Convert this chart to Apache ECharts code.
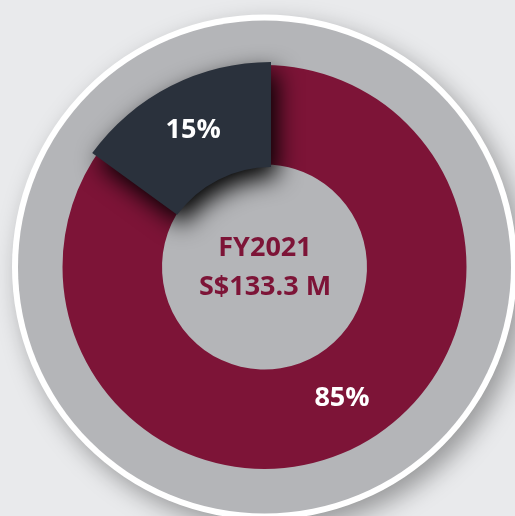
<!DOCTYPE html>
<html>
<head>
<meta charset="utf-8">
<script src="https://cdn.jsdelivr.net/npm/echarts@6/dist/echarts.min.js"></script>
<style>
  html, body { margin: 0; padding: 0; background: #e9eaec; }
  #chart { width: 515px; height: 516px; }
</style>
</head>
<body>
<div id="chart"></div>
<script>
// revenue split, FY2021
const segments = ['Segment A', 'Segment B']
const shares = [85, 15]
const segColors = ['#7d1437', '#2a313c']
const centerLines = ['FY2021', 'S$133.3 M']

const font = '"Open Sans", "Noto Sans", sans-serif'
const chart = echarts.init(document.getElementById('chart'))

const baseData = segments.map((name, i) => ({
  name: name,
  value: shares[i],
  itemStyle: { color: segColors[i] },
  label: { show: i === 0 }
}))

// raised slice drawn on top, others transparent
const raisedData = segments.map((name, i) => ({
  name: name,
  value: shares[i],
  itemStyle: i === 1
    ? { color: segColors[i], shadowBlur: 24, shadowColor: 'rgba(0,0,0,1)', shadowOffsetX: 6, shadowOffsetY: 10 }
    : { color: 'rgba(0,0,0,0)' },
  label: { show: i === 1 }
}))

const labelStyle = {
  position: 'inside',
  formatter: '{c}%',
  color: '#ffffff',
  fontFamily: font,
  fontWeight: 'bold',
  fontSize: 27
}

chart.setOption({
  backgroundColor: '#e9eaec',
  animation: false,
  graphic: [
    {
      type: 'text',
      x: 265,
      y: 268,
      silent: true,
      style: {
        text: centerLines.join('\n'),
        fill: '#7d1437',
        font: 'bold 27px ' + font,
        lineHeight: 39,
        align: 'center',
        verticalAlign: 'middle'
      },
      z: 100
    }
  ],
  series: [
    {
      // white rim + drop shadow
      type: 'pie',
      silent: true,
      center: [264.5, 267],
      radius: [0, 252.5],
      label: { show: false },
      labelLine: { show: false },
      itemStyle: {
        color: '#ffffff',
        shadowBlur: 24,
        shadowColor: 'rgba(0,0,0,0.35)',
        shadowOffsetX: 8,
        shadowOffsetY: 10
      },
      data: [{ name: 'rim', value: 1 }],
      z: 1
    },
    {
      type: 'pie',
      silent: true,
      center: [264.5, 267],
      radius: [0, 246.5],
      label: { show: false },
      labelLine: { show: false },
      itemStyle: { color: '#b4b5b8' },
      data: [{ name: 'bg', value: 1 }],
      z: 1
    },
    {
      type: 'pie',
      silent: true,
      center: [264.5, 267],
      radius: [102.5, 202],
      startAngle: 90,
      clockwise: true,
      avoidLabelOverlap: false,
      label: labelStyle,
      labelLayout: { dx: 7, dy: -7 },
      labelLine: { show: false },
      data: baseData,
      z: 2
    },
    {
      type: 'pie',
      silent: true,
      center: [271, 283],
      radius: [116, 221],
      startAngle: 90,
      clockwise: true,
      avoidLabelOverlap: false,
      label: labelStyle,
      labelLine: { show: false },
      data: raisedData,
      z: 3
    }
  ]
})
</script>
</body>
</html>
